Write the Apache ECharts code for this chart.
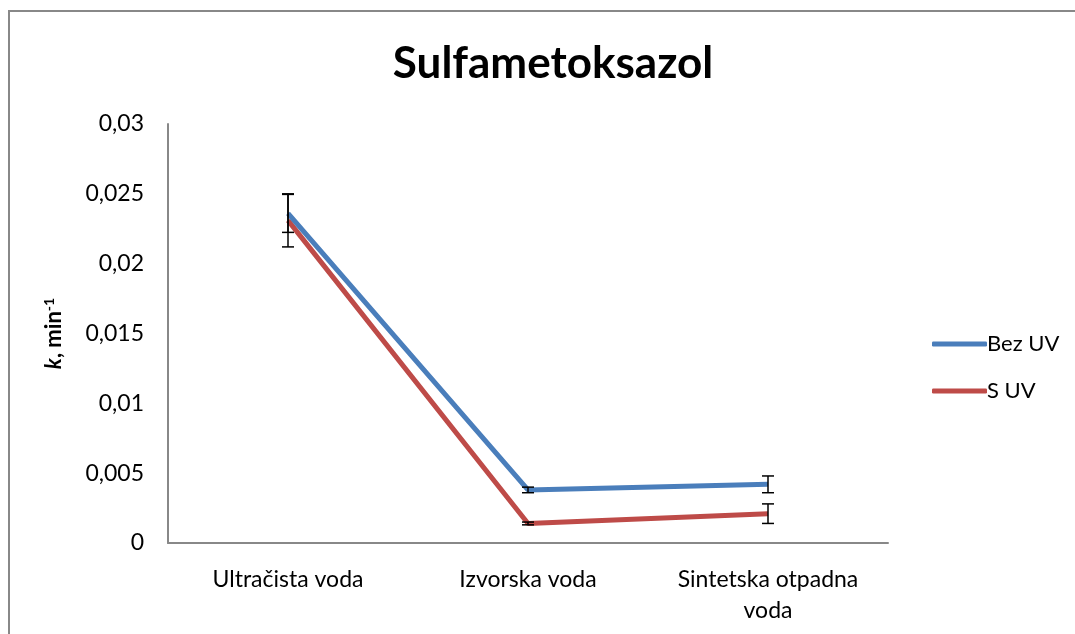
<!DOCTYPE html>
<html>
<head>
<meta charset="utf-8">
<script src="https://cdn.jsdelivr.net/npm/echarts@6/dist/echarts.min.js"></script>
<style>
html,body{margin:0;padding:0;background:#fff;}
#chart{width:1075px;height:634px;}
</style>
</head>
<body>
<div id="chart"></div>
<script>
var categories = ['Ultračista voda', 'Izvorska voda', 'Sintetska otpadna\nvoda'];
var bezUv = [0.0236, 0.0038, 0.0042];
var bezUvErr = [0.00136, 0.0002, 0.0006];
var sUv = [0.0231, 0.0014, 0.0021];
var sUvErr = [0.0019, 0.0001, 0.0007];
var yTicks = [0, 0.005, 0.01, 0.015, 0.02, 0.025, 0.03];

var FONT = 'Lato';

function errData(vals, errs){
	var out = [];
	for(var i = 0; i < vals.length; i++){
		out.push([i, vals[i] - errs[i], vals[i] + errs[i]]);
	}
	return out;
}

function renderErr(params, api){
	var x = api.value(0);
	var lo = api.coord([x, api.value(1)]);
	var hi = api.coord([x, api.value(2)]);
	var w = 6;
	var st = {stroke: '#000', lineWidth: 1.5};
	return {
		type: 'group',
		children: [
			{type: 'line', shape: {x1: lo[0], y1: lo[1], x2: hi[0], y2: hi[1]}, style: st},
			{type: 'line', shape: {x1: lo[0] - w, y1: lo[1], x2: lo[0] + w, y2: lo[1]}, style: st},
			{type: 'line', shape: {x1: hi[0] - w, y1: hi[1], x2: hi[0] + w, y2: hi[1]}, style: st}
		]
	};
}

var myChart = echarts.init(document.getElementById('chart'));
var option = {
	backgroundColor: '#fff',
	animation: false,
	graphic: [{
		type: 'rect',
		shape: {x: 9, y: 11, width: 1100, height: 700},
		style: {fill: 'none', stroke: '#888', lineWidth: 2},
		silent: true
	}],
	title: {
		text: 'Sulfametoksazol',
		left: 548,
		top: 37,
		textAlign: 'center',
		textStyle: {fontFamily: FONT, fontSize: 44, fontWeight: 'bold', color: '#000'}
	},
	legend: {
		orient: 'vertical',
		left: 927,
		top: 328,
		itemWidth: 55,
		itemHeight: 5,
		itemGap: 25,
		data: [
			{name: 'Bez UV', icon: 'roundRect'},
			{name: 'S UV', icon: 'roundRect'}
		],
		textStyle: {fontFamily: FONT, fontSize: 22, color: '#000', padding: [0, 0, 0, -5]}
	},
	grid: {left: 168, top: 124, right: 187, bottom: 91},
	xAxis: {
		type: 'category',
		data: categories,
		axisLine: {lineStyle: {color: '#888', width: 2}},
		axisTick: {show: false},
		axisLabel: {fontFamily: FONT, fontSize: 23, color: '#000', margin: 21, lineHeight: 31, interval: 0}
	},
	yAxis: {
		type: 'value',
		min: 0,
		max: 0.03,
		interval: 0.005,
		name: '{i|k}, min{s|-1}',
		nameLocation: 'middle',
		nameGap: 102,
		nameRotate: 90,
		nameTextStyle: {
			fontFamily: FONT, fontSize: 22, fontWeight: 'bold', color: '#000',
			rich: {
				i: {fontFamily: FONT, fontSize: 22, fontWeight: 'bold', fontStyle: 'italic', color: '#000'},
				s: {fontFamily: FONT, fontSize: 14, fontWeight: 'bold', color: '#000', verticalAlign: 'top', padding: [0, 0, 10, 0]}
			}
		},
		axisLine: {show: true, lineStyle: {color: '#888', width: 2}},
		axisTick: {show: false},
		splitLine: {show: false},
		axisLabel: {
			fontFamily: FONT, fontSize: 23, color: '#000', margin: 24,
			formatter: function(v){
				for(var i = 0; i < yTicks.length; i++){
					if(Math.abs(v - yTicks[i]) < 1e-9){
						return String(yTicks[i]).replace('.', ',');
					}
				}
				return '';
			}
		}
	},
	series: [
		{
			name: 'Bez UV',
			type: 'line',
			data: bezUv,
			symbol: 'none',
			lineStyle: {color: '#4A7EBB', width: 5},
			itemStyle: {color: '#4A7EBB'},
			z: 3
		},
		{
			name: 'S UV',
			type: 'line',
			data: sUv,
			symbol: 'none',
			lineStyle: {color: '#BE4B48', width: 5},
			itemStyle: {color: '#BE4B48'},
			z: 2
		},
		{
			type: 'custom',
			renderItem: renderErr,
			data: errData(bezUv, bezUvErr),
			encode: {x: 0, y: [1, 2]},
			z: 4,
			silent: true
		},
		{
			type: 'custom',
			renderItem: renderErr,
			data: errData(sUv, sUvErr),
			encode: {x: 0, y: [1, 2]},
			z: 4,
			silent: true
		}
	]
};
myChart.setOption(option);
</script>
</body>
</html>
